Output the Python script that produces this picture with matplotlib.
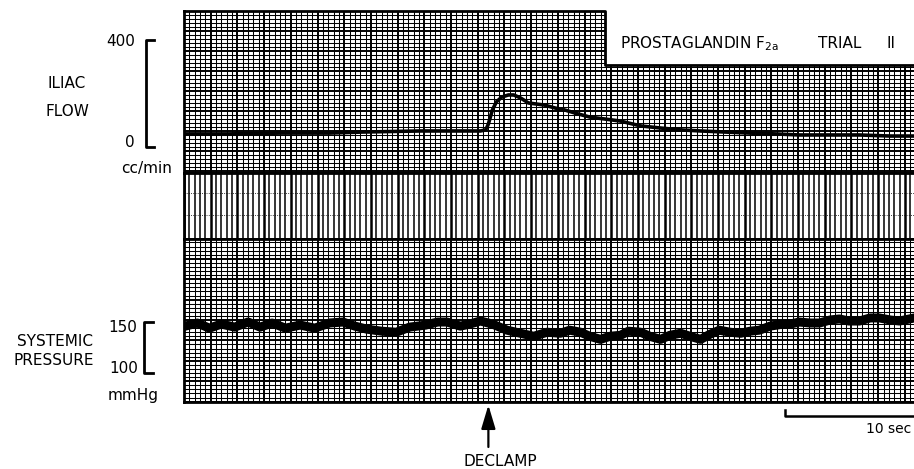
import matplotlib
matplotlib.use('Agg')
import matplotlib.pyplot as plt
from matplotlib.patches import Rectangle
import numpy as np

plt.rcParams['font.family'] = 'DejaVu Sans'
plt.rcParams['mathtext.default'] = 'regular'

# iliac flow trace, cc/min against time in s
flow_t = [0, 3.4, 7.2, 10.9, 13.4, 17.7, 22.2, 22.6, 22.8, 23.1, 23.4, 23.8, 24.3,
          24.7, 25.2, 25.8, 26.4, 27.0, 27.8, 28.5, 29.3, 30.4, 31.5, 32.7, 34.2,
          35.7, 37.2, 38.7, 40.5, 42.4, 44.3, 46.1, 48.4, 50.6, 52.9, 54.7]
flow_v = [48, 48, 51, 51, 55, 59, 59, 63, 85, 138, 168, 186, 194,
          194, 183, 164, 160, 156, 145, 138, 126, 111, 104, 96, 78,
          70, 63, 59, 55, 51, 48, 44, 44, 44, 40, 40]

# systemic pressure trace, mmHg against time in s
pres_t = [0.1, 1.0, 1.9, 2.8, 3.8, 4.8, 5.7, 6.6, 7.6, 8.7, 9.8, 10.9, 11.9,
          12.8, 13.7, 14.8, 15.9, 16.9, 18.1, 19.0, 19.7, 20.7, 21.4, 22.2, 23.1,
          24.2, 25.2, 26.2, 27.2, 28.2, 28.9, 29.7, 30.4, 31.2, 31.9, 32.7, 33.3,
          34.2, 34.9, 35.7, 36.4, 37.2, 37.9, 38.7, 39.4, 40.1, 40.9, 41.7, 42.4,
          43.1, 43.9, 44.9, 45.4, 46.1, 46.9, 47.6, 48.4, 49.1, 49.8, 50.6, 51.4,
          52.1, 52.9, 53.6, 54.7]
pres_v = [146, 149, 144, 148, 145, 150, 145, 149, 144, 147, 144, 149, 150,
          146, 143, 141, 140, 145, 147, 150, 150, 146, 148, 151, 148,
          142, 139, 136, 140, 139, 142, 140, 136, 133, 136, 137, 141,
          140, 136, 133, 137, 139, 136, 133, 138, 142, 140, 139, 141,
          142, 146, 148, 148, 150, 149, 149, 152, 153, 151, 151, 154,
          154, 152, 151, 154]

declamp_t = 22.8
scale_t = [45, 55]

W, H = 914, 469
t_max = 730 / 13.35
flow_lim = (-98.6, 508.8)
pres_lim = (71.6, 231.4)
notch_t, notch_f = 31.54, 306.3


def box(x0, y0, x1, y1):
    return [x0 / W, 1 - y1 / H, (x1 - x0) / W, (y1 - y0) / H]


fig = plt.figure(figsize=(W / 100, H / 100), dpi=100)
ax_f = fig.add_axes(box(184, 11, 914, 173))
ax_m = fig.add_axes(box(184, 173, 914, 239))
ax_p = fig.add_axes(box(184, 239, 914, 402))

for ax in (ax_f, ax_m, ax_p):
    ax.set_xticks(np.arange(0, 56, 2))
    ax.set_xticks(np.arange(0, 56, 0.4), minor=True)
    ax.set_xlim(0, t_max)
    ax.tick_params(which='both', length=0, labelleft=False, labelbottom=False)
    for s in ax.spines.values():
        s.set_linewidth(2)
    ax.spines['right'].set_visible(False)

ax_f.set_yticks(np.arange(-90, 510, 75))
ax_f.set_yticks(np.arange(-90, 510, 15), minor=True)
ax_f.set_ylim(*flow_lim)
ax_p.set_yticks(np.arange(72, 232, 20))
ax_p.set_yticks(np.arange(72, 232, 4), minor=True)
ax_p.set_ylim(*pres_lim)
ax_m.set_yticks([])
ax_m.set_ylim(0, 1)

for ax in (ax_f, ax_p):
    ax.grid(which='minor', color='k', lw=0.75)
    ax.grid(which='major', color='k', lw=1.4)
ax_m.grid(axis='x', which='minor', color='k', lw=1.1)
ax_m.grid(axis='x', which='major', color='k', lw=1.8)
ax_m.axhline(0.36, color='k', lw=0.6, ls=':')
ax_m.axhline(0.70, color='k', lw=0.6, ls=':')

# notch in the paper for the title
ax_f.spines['top'].set_visible(False)
ax_f.add_patch(Rectangle((notch_t, notch_f), t_max, 400, fc='white', ec='none', zorder=2.5))
ax_f.plot([0, notch_t, notch_t, t_max + 1], [flow_lim[1], flow_lim[1], notch_f, notch_f],
          color='k', lw=2, clip_on=False, zorder=3)

# traces
ax_f.plot(flow_t, flow_v, color='k', lw=2.6, solid_joinstyle='round', zorder=2)
ax_p.plot(pres_t, pres_v, color='k', lw=6.5, solid_joinstyle='round', zorder=2)

# calibration brackets
ax_f.plot([-2.25, -2.85, -2.85, -2.25], [400, 400, 0, 0], color='k', lw=2, clip_on=False)
ax_p.plot([-2.32, -3.0, -3.0, -2.32], [150, 150, 100, 100], color='k', lw=2, clip_on=False)

fs = 11
fig.text(135 / W, 1 - 42 / H, '400', ha='right', va='center', fontsize=fs)
fig.text(135 / W, 1 - 142 / H, '0', ha='right', va='center', fontsize=fs)
fig.text(67 / W, 1 - 83 / H, 'ILIAC', ha='center', va='center', fontsize=fs)
fig.text(67 / W, 1 - 111 / H, 'FLOW', ha='center', va='center', fontsize=fs)
fig.text(147 / W, 1 - 168 / H, 'cc/min', ha='center', va='center', fontsize=fs)
fig.text(55 / W, 1 - 342 / H, 'SYSTEMIC', ha='center', va='center', fontsize=fs)
fig.text(54 / W, 1 - 360 / H, 'PRESSURE', ha='center', va='center', fontsize=fs)
fig.text(137 / W, 1 - 327 / H, '150', ha='right', va='center', fontsize=fs)
fig.text(138 / W, 1 - 368 / H, '100', ha='right', va='center', fontsize=fs)
fig.text(133 / W, 1 - 395 / H, 'mmHg', ha='center', va='center', fontsize=fs)

fig.text(620 / W, 1 - 44 / H, r'PROSTAGLANDIN F$_{2a}$', ha='left', va='center', fontsize=fs)
fig.text(818 / W, 1 - 44 / H, 'TRIAL', ha='left', va='center', fontsize=fs)
fig.text(887 / W, 1 - 44 / H, 'II', ha='left', va='center', fontsize=fs)

# declamp marker
ax_p.annotate('', xy=(declamp_t, 68.6), xytext=(declamp_t, 27.5),
              arrowprops=dict(arrowstyle='-|>,head_length=0.6,head_width=0.18',
                              mutation_scale=24, lw=1.6, color='k', shrinkA=0, shrinkB=0),
              annotation_clip=False)
fig.text(500 / W, 1 - 461 / H, 'DECLAMP', ha='center', va='center', fontsize=fs)

# time scale
ax_p.plot([scale_t[0], scale_t[0], scale_t[1]], [63.7, 57.8, 57.8], color='k', lw=1.8, clip_on=False)
fig.text(911 / W, 1 - 429 / H, '10 sec', ha='right', va='center', fontsize=10)

fig.savefig('out.png', dpi=100)
